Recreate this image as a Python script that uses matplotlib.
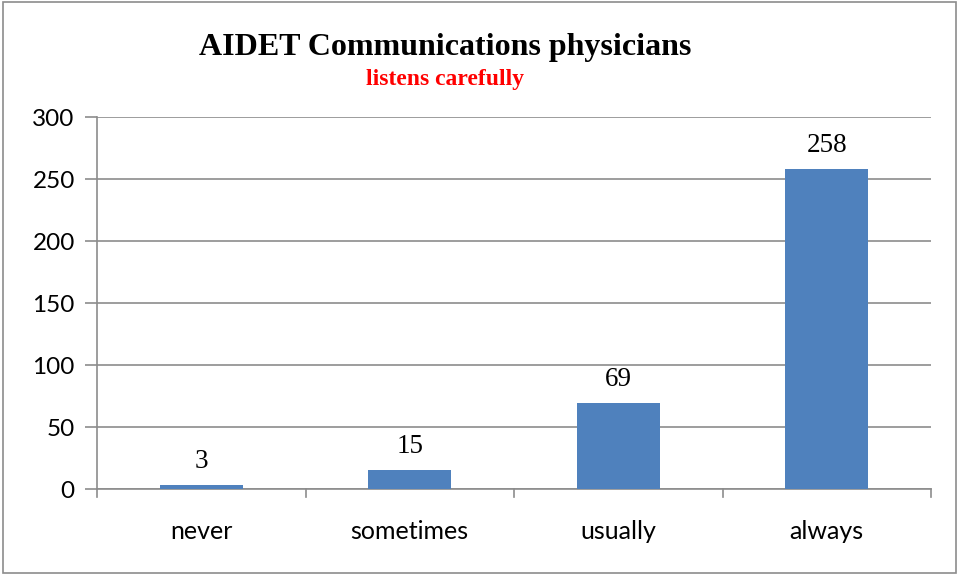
import matplotlib
matplotlib.use("Agg")
import matplotlib.pyplot as plt
from matplotlib.patches import Rectangle

categories = ["never", "sometimes", "usually", "always"]
values = [3, 15, 69, 258]
yticks = [0, 50, 100, 150, 200, 250, 300]
title = "AIDET Communications physicians"
subtitle = "listens carefully"

W, H = 959, 575
fig = plt.figure(figsize=(W / 100, H / 100), dpi=100)
fig.patch.set_facecolor("white")
fig.add_artist(Rectangle((3 / W, 2 / H), (956 - 3) / W, (573 - 2) / H,
                         transform=fig.transFigure, fill=False,
                         edgecolor="#8c8c8c", linewidth=1.2))

ax = fig.add_axes([97 / W, (H - 489) / H, (931 - 97) / W, (489 - 117) / H])
x = list(range(len(categories)))
ax.bar(x, values, width=0.4, color="#4f81bd", zorder=3)
ax.set_xlim(-0.5, len(categories) - 0.5)
ax.set_ylim(0, 300)
ax.set_yticks(yticks)
ax.set_yticklabels([str(t) for t in yticks], fontsize=17.5, family="Lato")
ax.set_xticks(x)
ax.set_xticklabels(categories, fontsize=18, family="Lato")
ax.tick_params(axis="x", length=0, pad=22)
ax.tick_params(axis="y", length=9, width=1.2, color="#8c8c8c", pad=7)
ax.grid(axis="y", color="#8c8c8c", linewidth=1.2, zorder=0)
for b in [i + 0.5 for i in range(-1, len(categories))]:
    ax.plot([b, b], [0, -0.022], transform=ax.get_xaxis_transform(),
            color="#8c8c8c", linewidth=1.2, clip_on=False)
for s in ["top", "right"]:
    ax.spines[s].set_visible(False)
ax.spines["left"].set_color("#8c8c8c")
ax.spines["left"].set_linewidth(1.2)
ax.spines["bottom"].set_color("#8c8c8c")
ax.spines["bottom"].set_linewidth(1.2)

for xi, v in zip(x, values):
    ax.annotate(str(v), (xi, v), xytext=(0, 8), textcoords="offset points",
                ha="center", va="bottom", fontsize=19.5, family="Liberation Serif")

fig.text(445 / W, 1 - 48 / H, title, ha="center", va="center",
         fontsize=23, fontweight="bold", family="Liberation Serif")
fig.text(445 / W, 1 - 80 / H, subtitle, ha="center", va="center",
         fontsize=17, fontweight="bold", family="Liberation Serif", color="#ff0000")

fig.savefig("out.png", dpi=100)
